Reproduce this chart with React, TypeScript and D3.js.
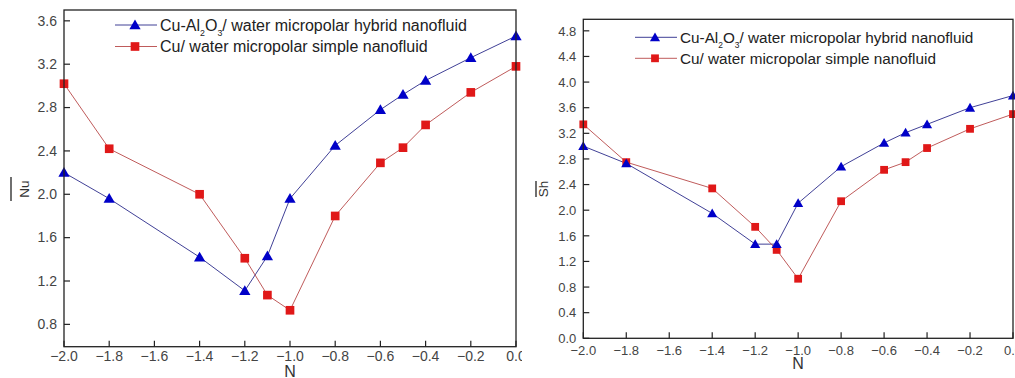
import React from "react";
import * as d3 from "d3";

const nValues = [-2.0, -1.8, -1.4, -1.2, -1.1, -1.0, -0.8, -0.6, -0.5, -0.4, -0.2, 0.0];
const nuHybrid = [2.2, 1.96, 1.42, 1.11, 1.43, 1.96, 2.45, 2.78, 2.92, 3.05, 3.26, 3.46];
const nuSimple = [3.02, 2.42, 2.0, 1.41, 1.07, 0.93, 1.8, 2.29, 2.43, 2.64, 2.94, 3.18];
const shHybrid = [3.0, 2.73, 1.95, 1.47, 1.47, 2.11, 2.68, 3.05, 3.21, 3.34, 3.6, 3.79];
const shSimple = [3.34, 2.75, 2.34, 1.74, 1.38, 0.93, 2.14, 2.63, 2.75, 2.97, 3.27, 3.5];
const xTicks = [-2.0, -1.8, -1.6, -1.4, -1.2, -1.0, -0.8, -0.6, -0.4, -0.2, 0.0];
const nuTicks = [0.8, 1.2, 1.6, 2.0, 2.4, 2.8, 3.2, 3.6];
const shTicks = [0.0, 0.4, 0.8, 1.2, 1.6, 2.0, 2.4, 2.8, 3.2, 3.6, 4.0, 4.4, 4.8];
const legendHybrid = ["Cu-Al", "2", "O", "3", "/ water micropolar hybrid nanofluid"];
const legendSimple = "Cu/ water micropolar simple nanofluid";

const FONT = "'Liberation Sans', Arial, sans-serif";
const BLUE = "#0000c8";
const RED = "#e01818";
const BLUE_LINE = "#2a2a8a";
const RED_LINE = "#b84848";
const fmt = d3.format(".1f");

type PanelProps = {
  left: number; right: number; top: number; bottom: number;
  yDomain: [number, number]; yTicks: number[];
  hybrid: number[]; simple: number[];
  yTitle: string; titleX: number; titleY: number; overX: number; overLen: number;
  legX: number; legY: number; legGap: number; legFont: number;
  tickFont: number; xLabelY: number; nY: number; mSize: number;
};

function Panel(p: PanelProps) {
  const x = d3.scaleLinear().domain([-2, 0]).range([p.left, p.right]);
  const y = d3.scaleLinear().domain(p.yDomain).range([p.bottom, p.top]);
  const line = d3.line<number>().x((_, i) => x(nValues[i])).y((v) => y(v));
  const tri = d3.symbol().type(d3.symbolTriangle).size(p.mSize * p.mSize * 0.55)();
  const sq = d3.symbol().type(d3.symbolSquare).size(p.mSize * p.mSize * 0.75)();
  const sub = p.legFont * 0.55;
  return (
    <g fontFamily={FONT}>
      <path d={line(p.hybrid) || ""} fill="none" stroke={BLUE_LINE} strokeWidth={0.9} />
      <path d={line(p.simple) || ""} fill="none" stroke={RED_LINE} strokeWidth={0.9} />
      {p.simple.map((v, i) => (
        <path key={"s" + i} d={sq || ""} transform={`translate(${x(nValues[i])},${y(v)})`} fill={RED} />
      ))}
      {p.hybrid.map((v, i) => (
        <path key={"h" + i} d={tri || ""} transform={`translate(${x(nValues[i])},${y(v) + 1})`} fill={BLUE} />
      ))}
      <rect x={p.left} y={p.top} width={p.right - p.left} height={p.bottom - p.top} fill="none" stroke="#222" strokeWidth={1.3} />
      {xTicks.map((t) => (
        <g key={"x" + t}>
          <line x1={x(t)} x2={x(t)} y1={p.bottom} y2={p.bottom - 6} stroke="#222" strokeWidth={1.2} />
          <text x={x(t)} y={p.xLabelY} textAnchor="middle" fontSize={p.tickFont} fill="#444">{fmt(t)}</text>
        </g>
      ))}
      {p.yTicks.map((t) => (
        <g key={"y" + t}>
          <line x1={p.left} x2={p.left + 6} y1={y(t)} y2={y(t)} stroke="#222" strokeWidth={1.2} />
          <text x={p.left - 7} y={y(t) + 4.8} textAnchor="end" fontSize={p.tickFont} fill="#444">{fmt(t)}</text>
        </g>
      ))}
      <text x={x(-1)} y={p.nY} textAnchor="middle" fontSize={16} fill="#333">N</text>
      <text transform={`translate(${p.titleX},${p.titleY}) rotate(-90)`} textAnchor="middle" fontSize={13.5} fill="#333">{p.yTitle}</text>
      <line x1={p.overX} x2={p.overX} y1={p.titleY - p.overLen / 2} y2={p.titleY + p.overLen / 2} stroke="#222" strokeWidth={1.3} />
      <g>
        <line x1={p.legX} x2={p.legX + 42} y1={p.legY} y2={p.legY} stroke={BLUE_LINE} strokeWidth={0.9} />
        <path d={tri || ""} transform={`translate(${p.legX + 20},${p.legY + 1})`} fill={BLUE} />
        <text x={p.legX + 45} y={p.legY + 5.5} fontSize={p.legFont} fill="#222">
          {legendHybrid[0]}
          <tspan fontSize={sub} dy={5}>{legendHybrid[1]}</tspan>
          <tspan dy={-5}>{legendHybrid[2]}</tspan>
          <tspan fontSize={sub} dy={5}>{legendHybrid[3]}</tspan>
          <tspan dy={-5}>{legendHybrid[4]}</tspan>
        </text>
        <line x1={p.legX} x2={p.legX + 42} y1={p.legY + p.legGap} y2={p.legY + p.legGap} stroke={RED_LINE} strokeWidth={0.9} />
        <path d={sq || ""} transform={`translate(${p.legX + 20},${p.legY + p.legGap})`} fill={RED} />
        <text x={p.legX + 45} y={p.legY + p.legGap + 5.5} fontSize={p.legFont} fill="#222">{legendSimple}</text>
      </g>
    </g>
  );
}

export default function App() {
  return (
    <svg width={1015} height={378} style={{ position: "absolute", left: 0, top: 0, background: "#fff" }}>
      <defs>
        <clipPath id="leftClip"><rect x={0} y={0} width={522} height={378} /></clipPath>
      </defs>
      <rect x={0} y={0} width={1015} height={378} fill="#fff" />
      <g clipPath="url(#leftClip)">
        <Panel left={64} right={516} top={10} bottom={346.7} yDomain={[0.594, 3.7]} yTicks={nuTicks}
          hybrid={nuHybrid} simple={nuSimple} yTitle="Nu" titleX={28.5} titleY={189} overX={11} overLen={24}
          legX={115} legY={25} legGap={21.5} legFont={16} tickFont={14} xLabelY={361} nY={377} mSize={10} />
      </g>
      <Panel left={583.3} right={1013} top={19.3} bottom={338.3} yDomain={[0, 4.98]} yTicks={shTicks}
        hybrid={shHybrid} simple={shSimple} yTitle="Sh" titleX={548} titleY={189} overX={536} overLen={16}
        legX={635} legY={37.3} legGap={21} legFont={15.3} tickFont={13} xLabelY={355} nY={369} mSize={9} />
    </svg>
  );
}
